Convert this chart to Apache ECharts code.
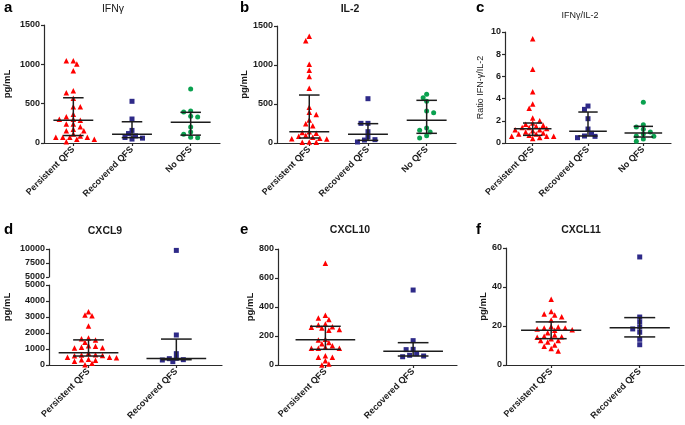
<!DOCTYPE html>
<html><head><meta charset="utf-8">
<script src="https://cdn.jsdelivr.net/npm/echarts@6/dist/echarts.min.js"></script>
<style>html,body{margin:0;padding:0;background:#fff}#c{width:685px;height:425px}</style>
</head><body><div id="c"></div>
<script>
// ---------- data ----------
const categories3 = ['Persistent QFS', 'Recovered QFS', 'No QFS'];
const categories2 = ['Persistent QFS', 'Recovered QFS'];

const ifngPersistent = [1046, 1046, 1004, 919, 665, 640, 568, 462, 462, 364, 335, 301, 290, 301, 241, 241, 208, 174, 157, 157, 114, 89, 72, 72, 72, 72, 47, 47, 17];
const ifngRecovered = [530, 305, 160, 120, 90, 70, 62, 50];
const ifngNoQfs = [686, 407, 394, 339, 330, 203, 140, 110, 72, 68];
const ifngMedian = [290, 110, 265];
const ifngQ1 = [95, 68, 100];
const ifngQ3 = [575, 270, 390];

const il2Persistent = [1368, 1310, 1010, 932, 852, 701, 459, 395, 365, 295, 246, 221, 145, 135, 124, 95, 86, 75, 60, 55, 50, 13, 10, 10];
const il2Recovered = [568, 252, 252, 145, 77, 43, 38, 13];
const il2NoQfs = [624, 581, 534, 410, 389, 192, 162, 141, 94, 64];
const il2Median = [145, 111, 291];
const il2Q1 = [64, 34, 124];
const il2Q3 = [615, 248, 547];

const ratioPersistent = [9.40, 6.64, 4.62, 3.51, 3.12, 2.25, 2.0, 1.8, 1.7, 1.6, 1.5, 1.4, 1.4, 1.3, 1.2, 1.2, 1.1, 1.0, 0.9, 0.8, 0.8, 0.7, 0.6, 0.6, 0.6, 0.5, 0.4];
const ratioRecovered = [3.33, 3.03, 2.19, 1.26, 0.87, 0.63, 0.60, 0.48];
const ratioNoQfs = [3.66, 1.65, 1.44, 1.23, 0.99, 0.81, 0.63, 0.60, 0.36, 0.15];
const ratioMedian = [1.29, 1.05, 0.90];
const ratioQ1 = [0.69, 0.63, 0.54];
const ratioQ3 = [1.80, 2.79, 1.50];

const cxcl9Persistent = [3333, 3125, 3083, 2438, 1688, 1646, 1560, 1417, 1208, 1167, 1104, 1083, 1063, 729, 646, 625, 600, 580, 479, 479, 460, 354, 330, 292, 229, 104, 10];
const cxcl9Recovered = [9750, 1875, 708, 417, 396, 333, 313, 208];
const cxcl9Median = [760, 410];
const cxcl9Q1 = [560, 330];
const cxcl9Q3 = [1570, 1620];

const cxcl10Persistent = [701, 343, 324, 313, 283, 276, 264, 260, 255, 244, 239, 177, 172, 156, 147, 133, 122, 116, 116, 115, 64, 53, 53, 30, 7, 0];
const cxcl10Recovered = [517, 168, 108, 106, 78, 67, 62, 57];
const cxcl10Median = [175, 94];
const cxcl10Q1 = [108, 62];
const cxcl10Q3 = [267, 154];

const cxcl11Persistent = [33.7, 27.4, 26.2, 25.6, 24.8, 23.1, 19.8, 19.5, 19.0, 19.0, 18.5, 18.1, 17.8, 16.6, 15.4, 14.7, 14.5, 14.2, 13.5, 12.6, 12.6, 11.8, 10.3, 9.6, 8.4, 7.2];
const cxcl11Recovered = [55.4, 24.6, 22.1, 19.5, 18.5, 16.8, 13.2, 10.4];
const cxcl11Median = [17.8, 19.1];
const cxcl11Q1 = [13.5, 14.4];
const cxcl11Q3 = [22.1, 24.3];

// ---------- style ----------
const FONT = "'Liberation Sans', Arial, sans-serif";
const AX = '#2a2a2a';
const TXT = '#1a1a1a';
const COLORS = ['#ff0000', '#2e2a88', '#0aa14f'];
const SYMBOLS = ['triangle', 'rect', 'circle'];
const SIZES = [5.5, 5, 5];

const grids = [], xAxes = [], yAxes = [], series = [];

function addGrid(g) {
  grids.push(Object.assign({ outerBoundsMode: 'none', containLabel: false }, g));
  return grids.length - 1;
}
function xAxisCfg(gi, cats, min, max, show) {
  const vals = cats.map((_, i) => i);
  return {
    type: 'value', gridIndex: gi, min, max, show,
    axisLine: { show: true, onZero: false, lineStyle: { color: AX, width: 1.2 } },
    axisTick: { show: true, customValues: vals, length: 3, lineStyle: { color: AX, width: 1.2 } },
    axisLabel: { show: true, customValues: vals, rotate: 45, margin: 5, interval: 0,
      formatter: v => cats[Math.round(v)] || '',
      fontSize: 9, fontWeight: 'bold', color: TXT, fontFamily: FONT },
    splitLine: { show: false }
  };
}
function yAxisCfg(gi, min, max, interval, name, nameGap, nameWeight, nameSize) {
  return {
    type: 'value', gridIndex: gi, min, max, interval,
    axisLine: { show: true, onZero: false, lineStyle: { color: AX, width: 1.2 } },
    axisTick: { show: true, length: 3, lineStyle: { color: AX, width: 1.2 } },
    axisLabel: { show: true, margin: 4, fontSize: 9, fontWeight: 'bold', color: TXT, fontFamily: FONT, formatter: v => String(v) },
    splitLine: { show: false },
    name: name || '', nameLocation: 'middle', nameGap: nameGap || 0,
    nameTextStyle: { fontSize: nameSize || 9.5, fontWeight: nameWeight || 'bold', color: TXT, fontFamily: FONT }
  };
}
// deterministic beeswarm spreading (no randomness)
function swarm(vals, g, unitPx, pxPerY) {
  const STEP = 3.5, D = 4.6; const placed = []; let flip = false;
  return vals.map(v => {
    const py = v * pxPerY; let off = 0;
    for (let k = 0; k < 80; k++) {
      const cands = k === 0 ? [0] : (flip ? [k, -k] : [-k, k]);
      const hit = cands.find(c => placed.every(q => (q[0] - c * STEP) ** 2 + (q[1] - py) ** 2 >= D * D));
      if (hit !== undefined) { off = hit * STEP; if (hit !== 0) flip = !flip; break; }
    }
    placed.push([off, py]);
    return [g + off / unitPx, v];
  });
}
function scatterSeries(xi, yi, g, data) {
  return { type: 'scatter', xAxisIndex: xi, yAxisIndex: yi, data, symbol: SYMBOLS[g], symbolSize: SIZES[g],
    itemStyle: { color: COLORS[g], opacity: 1 }, silent: true, z: 2 };
}
function barSeries(xi, yi, med, q1, q3) {
  return {
    type: 'custom', xAxisIndex: xi, yAxisIndex: yi, silent: true, z: 10,
    data: med.map((m, i) => [i, m, q1[i], q3[i]]),
    renderItem(params, api) {
      const x = api.value(0), m = api.value(1), lo = api.value(2), hi = api.value(3);
      const pt = (dx, y) => api.coord([x + dx, y]);
      const seg = (a, b) => ({ type: 'line', shape: { x1: a[0], y1: a[1], x2: b[0], y2: b[1] },
        style: { stroke: '#1c1c1c', lineWidth: 1.5 } });
      return { type: 'group', children: [
        seg(pt(-0.34, m), pt(0.34, m)),
        seg(pt(0, lo), pt(0, hi)),
        seg(pt(-0.175, lo), pt(0.175, lo)),
        seg(pt(-0.175, hi), pt(0.175, hi))
      ] };
    }
  };
}
function buildPanel(p) {
  const gi = addGrid(p.grid);
  xAxes.push(xAxisCfg(gi, p.cats, p.xMin, p.xMax, true)); const xi = xAxes.length - 1;
  yAxes.push(yAxisCfg(gi, p.yMin, p.yMax, p.yInt, p.upper ? '' : p.yName, p.nameGap, p.nameWeight, p.nameSize)); const yi = yAxes.length - 1;
  const unitPx = p.grid.width / (p.xMax - p.xMin), pxPerY = p.grid.height / (p.yMax - p.yMin);
  p.groups.forEach((vals, g) => {
    const inRange = vals.filter(v => v <= p.yMax);
    series.push(scatterSeries(xi, yi, g, swarm(inRange, g, unitPx, pxPerY)));
  });
  series.push(barSeries(xi, yi, p.med, p.q1, p.q3));
  if (p.upper) {
    const u = p.upper;
    const gu = addGrid(u.grid);
    xAxes.push(xAxisCfg(gu, p.cats, p.xMin, p.xMax, false)); const xu = xAxes.length - 1;
    yAxes.push(yAxisCfg(gu, u.yMin, u.yMax, u.yInt)); const yu = yAxes.length - 1;
    const upx = u.grid.height / (u.yMax - u.yMin);
    p.groups.forEach((vals, g) => {
      const above = vals.filter(v => v > p.yMax);
      if (above.length) series.push(scatterSeries(xu, yu, g, swarm(above, g, unitPx, upx)));
    });
    // axis title centred on the whole broken axis
    const gn = addGrid(u.nameGrid);
    xAxes.push({ type: 'value', gridIndex: gn, show: false, min: 0, max: 1 });
    yAxes.push({ type: 'value', gridIndex: gn, min: 0, max: 1, axisLine: { show: false, onZero: false }, axisTick: { show: false },
      axisLabel: { show: false }, splitLine: { show: false }, name: p.yName, nameLocation: 'middle', nameGap: p.nameGap,
      nameTextStyle: { fontSize: 9.5, fontWeight: 'bold', color: TXT, fontFamily: FONT } });
  }
}

const panels = [
  { grid: { left: 44, top: 25, width: 176, height: 118 }, xMin: -0.5, xMax: 2.5, yMin: 0, yMax: 1500, yInt: 500,
    cats: categories3, groups: [ifngPersistent, ifngRecovered, ifngNoQfs], med: ifngMedian, q1: ifngQ1, q3: ifngQ3,
    yName: 'pg/mL', nameGap: 32 },
  { grid: { left: 277, top: 26, width: 179, height: 117 }, xMin: -0.55, xMax: 2.5, yMin: 0, yMax: 1500, yInt: 500,
    cats: categories3, groups: [il2Persistent, il2Recovered, il2NoQfs], med: il2Median, q1: il2Q1, q3: il2Q3,
    yName: 'pg/mL', nameGap: 27 },
  { grid: { left: 505, top: 32, width: 166, height: 111 }, xMin: -0.5, xMax: 2.5, yMin: 0, yMax: 10, yInt: 2,
    cats: categories3, groups: [ratioPersistent, ratioRecovered, ratioNoQfs], med: ratioMedian, q1: ratioQ1, q3: ratioQ3,
    yName: 'Ratio IFN-\u03b3/IL-2', nameGap: 20, nameWeight: 'normal', nameSize: 9 },
  { grid: { left: 49, top: 285, width: 173, height: 80 }, xMin: -0.45, xMax: 1.52, yMin: 0, yMax: 5000, yInt: 1000,
    cats: categories2, groups: [cxcl9Persistent, cxcl9Recovered], med: cxcl9Median, q1: cxcl9Q1, q3: cxcl9Q3,
    yName: 'pg/mL', nameGap: 37,
    upper: { grid: { left: 49, top: 249, width: 173, height: 28 }, yMin: 5000, yMax: 10000, yInt: 2500,
             nameGrid: { left: 49, top: 249, width: 173, height: 116 } } },
  { grid: { left: 278, top: 249, width: 179, height: 116 }, xMin: -0.54, xMax: 1.5, yMin: 0, yMax: 800, yInt: 200,
    cats: categories2, groups: [cxcl10Persistent, cxcl10Recovered], med: cxcl10Median, q1: cxcl10Q1, q3: cxcl10Q3,
    yName: 'pg/mL', nameGap: 23 },
  { grid: { left: 506, top: 248, width: 178, height: 117 }, xMin: -0.51, xMax: 1.5, yMin: 0, yMax: 60, yInt: 20,
    cats: categories2, groups: [cxcl11Persistent, cxcl11Recovered], med: cxcl11Median, q1: cxcl11Q1, q3: cxcl11Q3,
    yName: 'pg/mL', nameGap: 17 }
];
panels.forEach(buildPanel);

const letters = [['a', 4, 7.7], ['b', 240, 8.3], ['c', 476, 7.7], ['d', 4, 230], ['e', 240, 229.5], ['f', 476, 230]];
const titles = [['IFN\u03b3', 113, 9.3, 'normal', 10.5], ['IL-2', 350, 9, 'bold', 10.5], ['IFN\u03b3/IL-2', 580, 15.7, 'normal', 9],
                ['CXCL9', 105, 230.7, 'bold', 10.5], ['CXCL10', 350, 230.5, 'bold', 10.5], ['CXCL11', 581, 230.5, 'bold', 10.5]];
const graphic = [
  ...letters.map(([t, x, y]) => ({ type: 'text', x, y, silent: true,
    style: { text: t, font: 'bold 15px ' + FONT, fill: '#000', textAlign: 'left', textVerticalAlign: 'middle', align: 'left', verticalAlign: 'middle' } })),
  ...titles.map(([t, x, y, w, s]) => ({ type: 'text', x, y, silent: true,
    style: { text: t, font: w + ' ' + s + 'px ' + FONT, fill: TXT, textAlign: 'center', textVerticalAlign: 'middle', align: 'center', verticalAlign: 'middle' } }))
];

const chart = echarts.init(document.getElementById('c'), null, { renderer: 'canvas' });
chart.setOption({
  animation: false,
  backgroundColor: '#fff',
  grid: grids, xAxis: xAxes, yAxis: yAxes, series, graphic
});
</script></body></html>
